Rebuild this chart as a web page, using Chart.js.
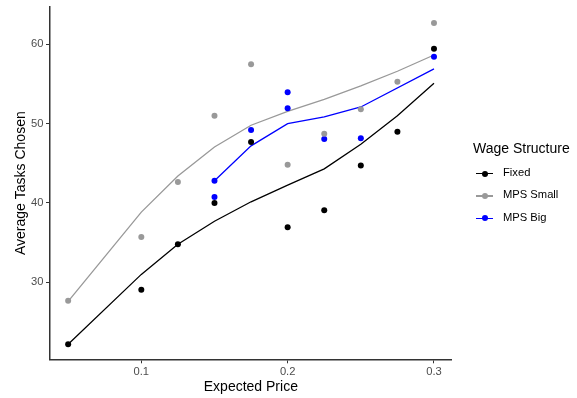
<!DOCTYPE html>
<html>
<head>
<meta charset="utf-8">
<script src="https://cdn.jsdelivr.net/npm/chart.js@4.4.1/dist/chart.umd.min.js"></script>
<style>
  html, body { margin: 0; padding: 0; background: #fff; }
  #wrap { position: relative; width: 577px; height: 398px; font-family: "Liberation Sans", Arial, sans-serif; }
  #chart { position: absolute; left: 0; top: 0; }
  #legend { position: absolute; left: 473px; top: 139px; color: #000; }
  #legend .title { font-size: 14px; line-height: 18px; margin-bottom: 6px; }
  #legend .item { position: relative; height: 22.3px; font-size: 11.2px; }
  #legend .sym { position: absolute; left: 3px; top: 10px; width: 17px; height: 1.3px; }
  #legend .dot { position: absolute; left: 8.5px; top: 7.5px; width: 6px; height: 6px; border-radius: 50%; }
  #legend .lab { position: absolute; left: 30px; top: 3px; }
</style>
</head>
<body>
<div id="wrap">
  <canvas id="chart" width="577" height="398"></canvas>
  <div id="legend"></div>
</div>
<script>
// Average tasks chosen by expected price, per wage structure
const prices = [0.05, 0.1, 0.125, 0.15, 0.175, 0.2, 0.225, 0.25, 0.275, 0.3];

const fixedAvg = [22.2, 29.05, 34.8, 40.0, 47.7, 36.95, 39.07, 44.74, 48.98, 59.45];
const fixedFit = [22.2, 31.0, 34.8, 37.7, 40.15, 42.25, 44.3, 47.4, 51.0, 55.1];

const smallAvg = [27.67, 35.7, 42.64, 51.0, 57.48, 44.82, 48.73, 51.8, 55.28, 62.69];
const smallFit = [27.6, 38.85, 43.4, 47.05, 49.8, 51.55, 53.05, 54.75, 56.6, 58.65];

const bigPrices = [0.15, 0.15, 0.175, 0.2, 0.2, 0.225, 0.25, 0.3];
const bigAvg = [42.8, 40.74, 49.2, 53.95, 51.93, 48.06, 48.15, 58.44];
const bigFitPrices = [0.15, 0.175, 0.2, 0.225, 0.25, 0.3];
const bigFit = [42.8, 47.2, 50.0, 50.85, 52.1, 56.9];

const seriesNames = ['Fixed', 'MPS Small', 'MPS Big'];
const seriesColors = ['#000000', '#999999', '#0000ff'];

const xTickValues = [0.1, 0.2, 0.3];
const xTickLabels = ['0.1', '0.2', '0.3'];
const yTickValues = [30, 40, 50, 60];
const yTickLabels = ['30', '40', '50', '60'];

const FONT = '"Liberation Sans", Arial, sans-serif';

function pairs(xs, ys) { return xs.map((x, i) => ({ x: x, y: ys[i] })); }

function pointSet(label, data, color) {
  return { type: 'scatter', label, data, order: 0, showLine: false,
    pointRadius: 3, pointHoverRadius: 3, pointBorderWidth: 0,
    backgroundColor: color, borderColor: color };
}
function lineSet(label, data, color) {
  return { type: 'line', label, data, order: 1, pointRadius: 0, pointHoverRadius: 0,
    borderColor: color, borderWidth: 1.3, fill: false, tension: 0 };
}

const datasets = [
  lineSet('Fixed fit', pairs(prices, fixedFit), seriesColors[0]),
  lineSet('MPS Small fit', pairs(prices, smallFit), seriesColors[1]),
  lineSet('MPS Big fit', pairs(bigFitPrices, bigFit), seriesColors[2]),
  pointSet('Fixed', pairs(prices, fixedAvg), seriesColors[0]),
  pointSet('MPS Small', pairs(prices, smallAvg), seriesColors[1]),
  pointSet('MPS Big', pairs(bigPrices, bigAvg), seriesColors[2])
];

// keep tick labels from adding their own margins to the plot area
function noLabelPadding(s) {
  s.paddingTop = 0; s.paddingBottom = 0; s.paddingLeft = 0; s.paddingRight = 0;
}

new Chart(document.getElementById('chart'), {
  type: 'scatter',
  data: { datasets },
  options: {
    responsive: false,
    animation: false,
    devicePixelRatio: 1,
    layout: { padding: { top: 7, right: 125.3, left: 0, bottom: 0 } },
    plugins: { legend: { display: false }, tooltip: { enabled: false } },
    scales: {
      x: {
        type: 'linear', min: 0.0376, max: 0.3121,
        afterBuildTicks: s => { s.ticks = xTickValues.map(v => ({ value: v })); },
        afterFit: s => { s.height = 38.7; noLabelPadding(s); },
        ticks: { color: '#4d4d4d', padding: 2, font: { family: FONT, size: 11.2 },
          callback: (v) => xTickLabels[xTickValues.indexOf(v)] },
        grid: { display: true, drawOnChartArea: false, drawTicks: true, tickLength: 4, color: '#333333', lineWidth: 1 },
        border: { display: true, color: '#333333', width: 1.5 },
        title: { display: true, text: 'Expected Price', color: '#000', padding: { top: 0, bottom: 2.5 },
          font: { family: FONT, size: 14 } }
      },
      y: {
        type: 'linear', min: 20.3, max: 64.7,
        afterBuildTicks: s => { s.ticks = yTickValues.map(v => ({ value: v })); },
        afterFit: s => { s.width = 50; noLabelPadding(s); },
        ticks: { color: '#4d4d4d', padding: 2.5, font: { family: FONT, size: 11.2 },
          callback: (v) => yTickLabels[yTickValues.indexOf(v)] },
        grid: { display: true, drawOnChartArea: false, drawTicks: true, tickLength: 4, color: '#333333', lineWidth: 1 },
        border: { display: true, color: '#333333', width: 1.5 },
        title: { display: true, text: 'Average Tasks Chosen', color: '#000', padding: { top: 12.4, bottom: 0 },
          font: { family: FONT, size: 14 } }
      }
    }
  }
});

// Legend: a line segment with a dot, followed by the series name
const legend = document.getElementById('legend');
const t = document.createElement('div');
t.className = 'title';
t.textContent = 'Wage Structure';
legend.appendChild(t);
seriesNames.forEach((name, i) => {
  const item = document.createElement('div');
  item.className = 'item';
  const sym = document.createElement('div');
  sym.className = 'sym';
  sym.style.background = seriesColors[i];
  const dot = document.createElement('div');
  dot.className = 'dot';
  dot.style.background = seriesColors[i];
  const lab = document.createElement('div');
  lab.className = 'lab';
  lab.textContent = name;
  item.appendChild(sym);
  item.appendChild(dot);
  item.appendChild(lab);
  legend.appendChild(item);
});
</script>
</body>
</html>
